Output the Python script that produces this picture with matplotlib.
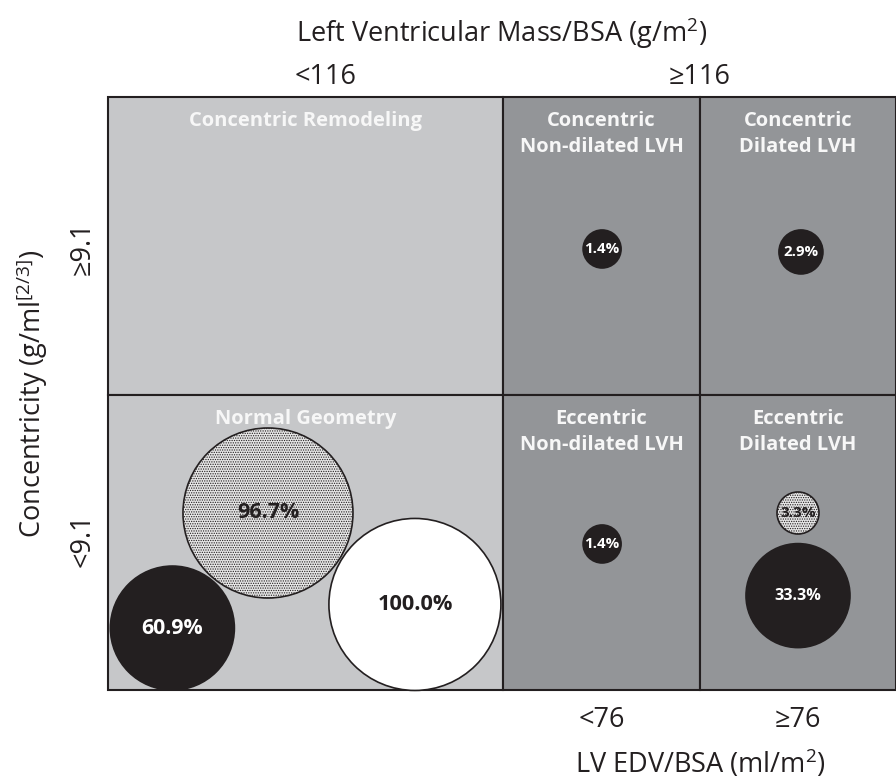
import matplotlib
matplotlib.use("Agg")
import matplotlib.pyplot as plt
from matplotlib.patches import Rectangle, Circle

plt.rcParams['font.family'] = ['Open Sans', 'DejaVu Sans']
plt.rcParams['mathtext.fontset'] = 'custom'
plt.rcParams['mathtext.rm'] = 'Open Sans'
plt.rcParams['mathtext.default'] = 'regular'
plt.rcParams['hatch.linewidth'] = 0.6

# grid layout (pixel space)
col_edges = [108, 503, 700, 896]
row_edges = [97, 395, 690]

# cell categories: (col_start, col_end), row, label
cell_cols = [(0, 1), (1, 2), (2, 3), (0, 1), (1, 2), (2, 3)]
cell_rows = [0, 0, 0, 1, 1, 1]
cell_labels = ["Concentric Remodeling", "Concentric\nNon-dilated LVH", "Concentric\nDilated LVH",
               "Normal Geometry", "Eccentric\nNon-dilated LVH", "Eccentric\nDilated LVH"]
cell_shade = ["light", "dark", "dark", "light", "dark", "dark"]

# bubbles: cell index, x/y offset within cell (fraction), radius in px, style
bub_labels = ["60.9%", "96.7%", "100.0%", "1.4%", "2.9%", "1.4%", "3.3%", "33.3%"]
bub_cell = [3, 3, 3, 1, 2, 4, 5, 5]
bub_fx = [0.163, 0.405, 0.777, 0.503, 0.515, 0.503, 0.5, 0.5]
bub_fy = [0.79, 0.40, 0.71, 0.51, 0.52, 0.505, 0.40, 0.68]
bub_r = [62, 85, 86, 19, 22, 19, 21, 52]
bub_style = ["black", "dots", "white", "black", "black", "black", "dots", "black"]
bub_fs = [15.3, 15.5, 15.7, 10.8, 10.8, 10.8, 11, 11.7]

col_ticks = ["<76", "≥76"]
row_ticks = ["≥9.1", "<9.1"]
mass_ticks = ["<116", "≥116"]

fig = plt.figure(figsize=(8.96, 7.84), dpi=100)
ax = fig.add_axes([0, 0, 1, 1])
ax.set_xlim(0, 896)
ax.set_ylim(784, 0)
ax.axis('off')

light = '#c6c7c9'
dark = '#939598'
edge = '#231f20'

for i, lab in enumerate(cell_labels):
    c0, c1 = cell_cols[i]
    r = cell_rows[i]
    x0, x1 = col_edges[c0], col_edges[c1]
    y0, y1 = row_edges[r], row_edges[r + 1]
    ax.add_patch(Rectangle((x0, y0), x1 - x0, y1 - y0,
                           facecolor=light if cell_shade[i] == "light" else dark,
                           edgecolor=edge, linewidth=1.5, zorder=1))
    ax.text((x0 + x1) / 2, y0 + 14, lab, ha='center', va='top', color='#f7f7f7',
            fontsize=14.5, fontweight='bold', linespacing=1.4, zorder=2)

for i, lab in enumerate(bub_labels):
    c0, c1 = cell_cols[bub_cell[i]]
    r = cell_rows[bub_cell[i]]
    x0, x1 = col_edges[c0], col_edges[c1]
    y0, y1 = row_edges[r], row_edges[r + 1]
    cx = x0 + bub_fx[i] * (x1 - x0)
    cy = y0 + bub_fy[i] * (y1 - y0)
    st = bub_style[i]
    if st == "black":
        fc, tc, hatch = '#231f20', 'white', None
    elif st == "white":
        fc, tc, hatch = 'white', '#231f20', None
    else:
        fc, tc, hatch = '#e6e6e6', '#231f20', '.......'
    ax.add_patch(Circle((cx, cy), bub_r[i], facecolor=fc, edgecolor='#231f20',
                        linewidth=1.2, hatch=hatch, zorder=3))
    ax.text(cx, cy, lab, ha='center', va='center', color=tc, fontsize=bub_fs[i],
            fontweight='bold', zorder=4)

# axis titles and category labels
fs = 19.5
ink = '#231f20'
ax.text(502, 33, "Left Ventricular Mass/BSA (g/m$^2$)", ha='center', va='center', fontsize=fs, color=ink)
ax.text((col_edges[0] + col_edges[1]) / 2 + 20, 77, mass_ticks[0], ha='center', va='center', fontsize=fs, color=ink)
ax.text(col_edges[2], 77, mass_ticks[1], ha='center', va='center', fontsize=fs, color=ink)
for j, t in enumerate(col_ticks):
    ax.text((col_edges[j + 1] + col_edges[j + 2]) / 2, 720, t, ha='center', va='center', fontsize=fs, color=ink)
ax.text(700, 764, "LV EDV/BSA (ml/m$^2$)", ha='center', va='center', fontsize=fs, color=ink)
row_label_y = [248, 540]
for j, t in enumerate(row_ticks):
    ax.text(83, row_label_y[j], t, ha='center', va='center', rotation=90, fontsize=fs, color=ink)
ax.text(32, 394, "Concentricity (g/ml$^{[2/3]}$)", ha='center', va='center', rotation=90, fontsize=fs, color=ink)

fig.savefig("out.png", dpi=100, facecolor='white')
